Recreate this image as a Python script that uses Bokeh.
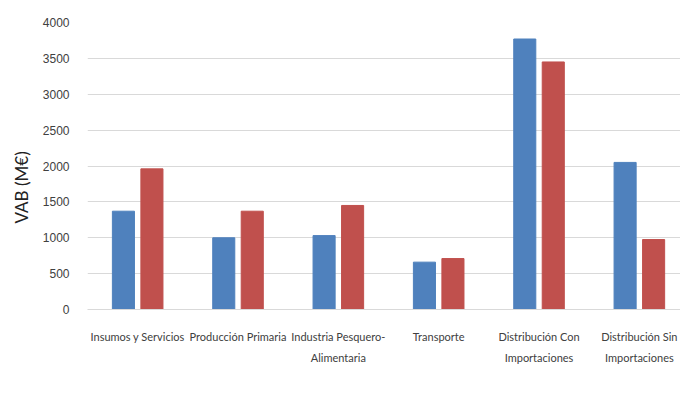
from bokeh.plotting import figure
from bokeh.models import Range1d, FixedTicker, Legend, LegendItem, ColumnDataSource, Title
from bokeh.transform import dodge
from bokeh.embed import file_html
from bokeh.resources import INLINE

categories = ["Insumos y Servicios", "Producción Primaria", "Industria Pesquero-\nAlimentaria",
              "Transporte", "Distribución Con\nImportaciones", "Distribución Sin\nImportaciones"]
years = ["2009", "2016"]
vab_2009 = [1370, 1000, 1030, 660, 3770, 2050]
vab_2016 = [1960, 1370, 1450, 710, 3450, 975]
y_ticks = [0, 500, 1000, 1500, 2000, 2500, 3000, 3500, 4000]
colors = ["#4F81BD", "#C0504D"]

slots = [i + 0.5 for i in range(len(categories))]
src = ColumnDataSource(dict(x=slots, y2009=vab_2009, y2016=vab_2016))

p = figure(frame_width=593, frame_height=287, output_backend="svg", toolbar_location=None,
           x_range=Range1d(0, 5.91), y_range=Range1d(0, 4000),
           min_border_left=86, min_border_right=0, min_border_top=22, min_border_bottom=80)
p.outline_line_color = None
p.background_fill_color = "white"

r1 = p.vbar(x=dodge("x", -0.142, range=p.x_range), top="y2009", width=0.22, source=src,
            fill_color=colors[0], line_color=colors[0])
r2 = p.vbar(x=dodge("x", 0.142, range=p.x_range), top="y2016", width=0.22, source=src,
            fill_color=colors[1], line_color=colors[1])

# grid
p.xgrid.grid_line_color = None
p.ygrid.ticker = FixedTicker(ticks=y_ticks)
p.ygrid.grid_line_color = "#D9D9D9"
p.ygrid.grid_line_width = 1

# y axis
p.yaxis.ticker = FixedTicker(ticks=y_ticks)
p.yaxis.axis_line_color = None
p.yaxis.major_tick_line_color = None
p.yaxis.minor_tick_line_color = None
p.yaxis.major_label_text_font = "Liberation Sans"
p.yaxis.major_label_text_font_size = "12px"
p.yaxis.major_label_text_color = "#404040"
p.yaxis.major_label_standoff = 12

ytitle = Title(text="VAB (M€)", align="left", offset=86, standoff=16,
               text_font="Lato", text_font_size="17px", text_font_style="normal",
               text_color="#222222")
p.add_layout(ytitle, "left")

# x axis
p.xaxis.ticker = FixedTicker(ticks=slots)
p.xaxis.major_label_overrides = {s: c for s, c in zip(slots, categories)}
p.xaxis.axis_line_color = "#D9D9D9"
p.xaxis.major_tick_line_color = None
p.xaxis.minor_tick_line_color = None
p.xaxis.major_label_text_font = "Lato"
p.xaxis.major_label_text_font_size = "11px"
p.xaxis.major_label_text_color = "#404040"
p.xaxis.major_label_text_line_height = 1.65
p.xaxis.major_label_standoff = 14

legend = Legend(items=[LegendItem(label=years[0], renderers=[r1]),
                       LegendItem(label=years[1], renderers=[r2])],
                orientation="horizontal", location=(211, 0),
                label_text_font="Lato", label_text_font_size="16px", label_text_color="#222222",
                glyph_width=13, glyph_height=13, label_standoff=3, spacing=12,
                border_line_color=None, background_fill_alpha=0, padding=0, margin=0)
p.add_layout(legend, "below")

open("out.html", "w").write(file_html(p, INLINE))
